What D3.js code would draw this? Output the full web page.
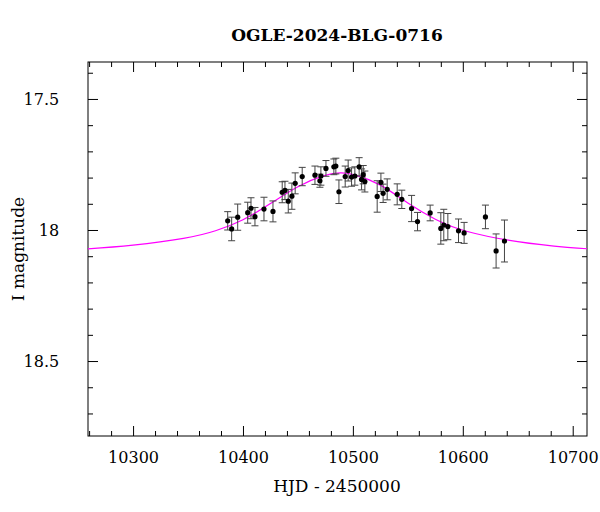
<!DOCTYPE html>
<html>
<head>
<meta charset="utf-8">
<script src="https://cdn.jsdelivr.net/npm/d3@7"></script>
<style>
  body { margin: 0; background: #fff; }
  text { font-family: "DejaVu Serif", "Liberation Serif", serif; }
</style>
</head>
<body>
<svg id="chart" width="600" height="512"></svg>
<script>
// observations: HJD-2450000, I magnitude, error
const hjd = [10386.1, 10389.7, 10395.2, 10404.3, 10407.3, 10410.9, 10419.1, 10427.3, 10435.7, 10438.2,
  10441.2, 10444.5, 10447.5, 10453.9, 10465.5, 10470.0, 10470.9, 10475.5, 10482.7, 10484.5,
  10487.3, 10493.0, 10495.7, 10498.8, 10501.8, 10505.7, 10507.9, 10509.4, 10510.9, 10522.1,
  10525.5, 10527.5, 10531.2, 10540.3, 10544.5, 10553.4, 10558.8, 10570.3, 10580.0, 10582.7,
  10586.4, 10596.1, 10601.2, 10620.6, 10630.3, 10637.9];
const mag = [17.965, 17.996, 17.951, 17.934, 17.917, 17.949, 17.920, 17.929, 17.856, 17.849,
  17.890, 17.871, 17.822, 17.796, 17.791, 17.812, 17.794, 17.765, 17.759, 17.756,
  17.854, 17.796, 17.773, 17.798, 17.794, 17.759, 17.807, 17.789, 17.815, 17.872,
  17.818, 17.860, 17.845, 17.864, 17.883, 17.918, 17.968, 17.935, 17.994, 17.981,
  17.987, 18.003, 18.011, 17.950, 18.080, 18.042];
const err = [0.035, 0.045, 0.05, 0.04, 0.04, 0.035, 0.045, 0.04, 0.04, 0.035,
  0.045, 0.05, 0.04, 0.035, 0.035, 0.025, 0.035, 0.03, 0.03, 0.03,
  0.045, 0.04, 0.04, 0.035, 0.035, 0.035, 0.04, 0.035, 0.04, 0.06,
  0.035, 0.035, 0.04, 0.04, 0.035, 0.05, 0.035, 0.03, 0.06, 0.06,
  0.05, 0.045, 0.04, 0.045, 0.065, 0.08];

// model curve
const modelT = [10250, 10300, 10350, 10375, 10400, 10425, 10450, 10475, 10489, 10500, 10525, 10550, 10575, 10600, 10650, 10700, 10720];
const modelM = [18.075, 18.060, 18.032, 18.005, 17.965, 17.900, 17.830, 17.788, 17.780, 17.785, 17.822, 17.900, 17.962, 18.006, 18.048, 18.069, 18.073];

const title = 'OGLE-2024-BLG-0716';

const svg = d3.select('#chart');
const m = { left: 88, right: 13, top: 62, bottom: 76 };
const W = 600, H = 512;

const x = d3.scaleLinear().domain([10259, 10713]).range([m.left, W - m.right]);
const y = d3.scaleLinear().domain([17.359, 18.786]).range([m.top, H - m.bottom]);

svg.append('clipPath').attr('id', 'clip').append('rect')
  .attr('x', m.left).attr('y', m.top)
  .attr('width', W - m.left - m.right).attr('height', H - m.top - m.bottom);

// ticks on all four sides, pointing in
function ticks(axisFn, scale, step, from, major, len, transform, fmt) {
  const vals = d3.range(from, scale.domain()[1] + 1e-6, step).filter(v => v >= scale.domain()[0]);
  const g = svg.append('g').attr('transform', transform);
  const a = axisFn(scale).tickValues(vals).tickSizeOuter(0).tickPadding(len + 8)
    .tickFormat(d => (fmt && major(d)) ? fmt(d) : '');
  g.call(a);
  g.selectAll('.tick line').attr('stroke', '#000')
    .each(function (d) {
      const l = major(d) ? len : len / 2;
      const sel = d3.select(this);
      if (axisFn === d3.axisBottom) sel.attr('y2', -l);
      if (axisFn === d3.axisTop) sel.attr('y2', l);
      if (axisFn === d3.axisLeft) sel.attr('x2', l);
      if (axisFn === d3.axisRight) sel.attr('x2', -l);
    });
  g.select('.domain').remove();
  g.selectAll('text').attr('font-size', 16).attr('fill', '#000')
    .style('font-family', '"DejaVu Serif", serif');
  return g;
}
const isMajX = d => Math.abs(d % 100) < 1e-6;
const isMajY = d => Math.round(d * 10) % 5 === 0;
const fmtY = d => { const s = (Math.round(d * 10) / 10).toFixed(1); return s.endsWith('.0') ? s.slice(0, -2) : s; };

const gb = ticks(d3.axisBottom, x, 20, 10260, isMajX, 10, `translate(0,${H - m.bottom})`, d3.format('d'));
gb.selectAll('text').attr('dy', '0.2em');
ticks(d3.axisTop, x, 20, 10260, isMajX, 10, `translate(0,${m.top})`, null);
const gl = ticks(d3.axisLeft, y, 0.1, 17.4, isMajY, 10, `translate(${m.left},0)`, fmtY);
gl.selectAll('text').attr('dx', '-0.3em');
ticks(d3.axisRight, y, 0.1, 17.4, isMajY, 10, `translate(${W - m.right},0)`, null);

svg.append('rect').attr('x', m.left).attr('y', m.top)
  .attr('width', W - m.left - m.right).attr('height', H - m.top - m.bottom)
  .attr('fill', 'none').attr('stroke', '#000');

// model
const model = modelT.map((t, i) => [t, modelM[i]]);
svg.append('path').datum(model)
  .attr('clip-path', 'url(#clip)')
  .attr('fill', 'none').attr('stroke', '#ff00ff').attr('stroke-width', 1.2)
  .attr('d', d3.line().x(d => x(d[0])).y(d => y(d[1])).curve(d3.curveBasis));

// data
const pts = hjd.map((t, i) => ({ t, m: mag[i], e: err[i] }));
const g = svg.append('g');
const cap = 3.5;
pts.forEach(p => {
  const cx = x(p.t), y0 = y(p.m - p.e), y1 = y(p.m + p.e);
  g.append('line').attr('x1', cx).attr('x2', cx).attr('y1', y0).attr('y2', y1).attr('stroke', '#444').attr('stroke-width', 1);
  g.append('line').attr('x1', cx - cap).attr('x2', cx + cap).attr('y1', y0).attr('y2', y0).attr('stroke', '#444');
  g.append('line').attr('x1', cx - cap).attr('x2', cx + cap).attr('y1', y1).attr('y2', y1).attr('stroke', '#444');
});
g.selectAll('circle').data(pts).join('circle')
  .attr('cx', d => x(d.t)).attr('cy', d => y(d.m)).attr('r', 2.6).attr('fill', '#000');

// labels
svg.append('text').attr('x', 337).attr('y', 41).attr('text-anchor', 'middle')
  .attr('font-size', 17).attr('font-weight', 'bold').text(title);
svg.append('text').attr('x', 337).attr('y', 492).attr('text-anchor', 'middle')
  .attr('font-size', 17).text('HJD - 2450000');
svg.append('text').attr('transform', 'translate(24,249) rotate(-90)').attr('text-anchor', 'middle')
  .attr('font-size', 17).text('I magnitude');
</script>
</body>
</html>
